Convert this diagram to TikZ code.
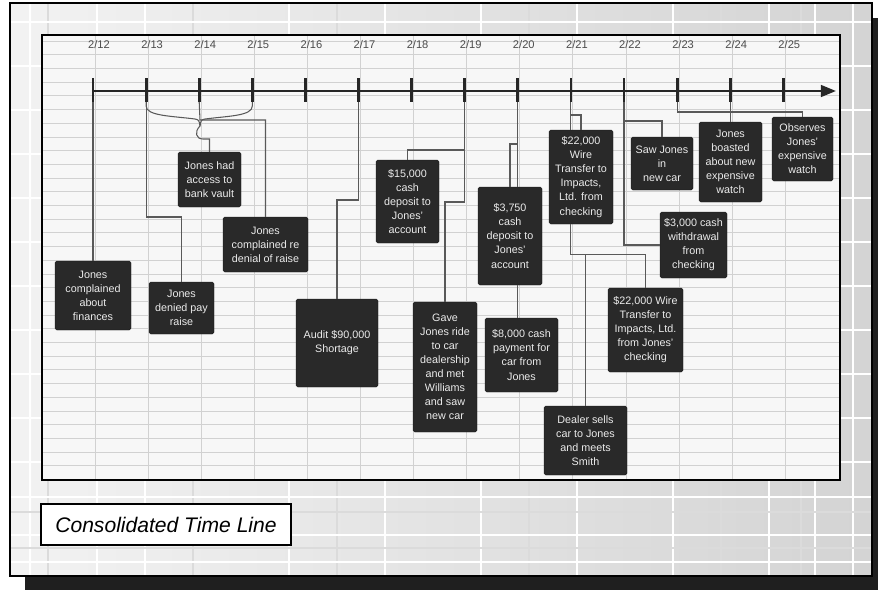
\documentclass[tikz,border=0pt]{standalone}
\usepackage{fontspec}
\setsansfont{Liberation Sans}
\usetikzlibrary{arrows.meta}

\begin{document}
\begin{tikzpicture}[x=0.3mm, y=-0.3mm,
event/.style={
% The shape:
rectangle, rounded corners=1.5pt,
% The border:
thin,
draw=black!90,
% The filling:
fill=black!84,
% Font
text=white!92!black,
font=\sffamily\fontsize{9.2}{12}\selectfont,
align=center, inner sep=1pt
},
evsize/.style 2 args={minimum width=#1*0.3mm, minimum height=#2*0.3mm},
datelabel/.style={font=\sffamily\fontsize{9.5}{11}\selectfont, text=black!70},
link/.style={draw=black!65, line width=0.9pt},
caption/.style={
% The shape:
rectangle, minimum width=250*0.3mm, minimum height=41*0.3mm,
% The border:
line width=2pt, draw=black,
% The filling:
fill=white,
% Font
font=\sffamily\itshape\fontsize{18}{20}\selectfont}
]

\useasboundingbox (0,0) rectangle (878,590);
% shadow and sheet
\fill[black!88] (25,576) rectangle (878,590);
\fill[black!88] (872,18) rectangle (878,590);
\shade[left color=black!5, right color=black!17] (10,3) rectangle (872,576);
\foreach \gx in {30,97,145,289,385,481,577,673,769,815,853}
  \draw[white, line width=1.2pt] (\gx,3) -- (\gx,576);
\foreach \gx in {48,193,337,529,721,801}
  \draw[black!14, line width=1pt] (\gx,3) -- (\gx,576);
\foreach \gy in {22,66,110,154,198,242,286,330,374,418,462,497,535,562}
  \draw[white, line width=1.2pt] (10,\gy) -- (872,\gy);
\foreach \gy in {512,548}
  \draw[black!14, line width=1pt] (10,\gy) -- (872,\gy);
\draw[line width=1.7pt] (10,3) rectangle (872,576);

% chart area
\fill[black!3] (42,35) rectangle (840,480);
\foreach \gy in {41,54.7,...,476}
  \draw[black!18, line width=0.6pt] (42,\gy) -- (840,\gy);
\foreach \i in {0,...,13}
  \draw[black!18, line width=0.8pt] (95+53.1*\i,35) -- (95+53.1*\i,480);
\draw[line width=2.5pt] (42,35) rectangle (840,480);

% dates and ticks
\foreach \d [count=\i from 0] in {12,...,25} {
  \coordinate (t\d) at (93+53.1*\i,91);
  \node (d\d) [datelabel] at (99+53.1*\i,45) {2/\d};
  \draw[line width=2.4pt, black!85] (t\d) ++(0,-13) -- ++(0,24);
}
\coordinate (tlend) at (836,91);
\draw[line width=2.2pt, black!85, -{Triangle[length=13pt,width=10pt]}] (t12) -- (tlend);

\node (finances) [event, evsize={76}{69}] at (93,295.5) {Jones\\complained\\about\\finances};
\node (payraise) [event, evsize={65}{52}] at (181.5,308) {Jones\\denied pay\\raise};
\node (vault) [event, evsize={63}{55}] at (209.5,179.5) {Jones had\\access to\\bank vault};
\node (denial) [event, evsize={85}{55}] at (265.5,244.5) {Jones\\complained re\\denial of raise};
\node (audit) [event, evsize={82}{88}] at (337,343) {Audit \$90,000\\Shortage};
\node (dep15) [event, evsize={63}{83}] at (407.5,201.5) {\$15,000\\cash\\deposit to\\Jones'\\account};
\node (ride) [event, evsize={64}{130}] at (445,367) {Gave\\Jones ride\\to car\\dealership\\and met\\Williams\\and saw\\new car};
\node (dep3750) [event, evsize={64}{98}] at (510,236) {\$3,750\\cash\\deposit to\\Jones'\\account};
\node (payment) [event, evsize={73}{74}] at (521.5,355) {\$8,000 cash\\payment for\\car from\\Jones};
\node (wire1) [event, evsize={64}{94}] at (581,177) {\$22,000\\Wire\\Transfer to\\Impacts,\\Ltd. from\\checking};
\node (dealer) [event, evsize={83}{69}] at (585.5,440.5) {Dealer sells\\car to Jones\\and meets\\Smith};
\node (wire2) [event, evsize={75}{84}] at (645.5,330) {\$22,000 Wire\\Transfer to\\Impacts, Ltd.\\from Jones'\\checking};
\node (saw) [event, evsize={62}{53}] at (662,163.5) {Saw Jones\\in\\new car};
\node (withdraw) [event, evsize={67}{66}] at (693.5,245) {\$3,000 cash\\withdrawal\\from\\checking};
\node (boasted) [event, evsize={63}{80}] at (730.5,162) {Jones\\boasted\\about new\\expensive\\watch};
\node (observes) [event, evsize={61}{64}] at (802.5,149) {Observes\\Jones'\\expensive\\watch};

\node (title) [caption] at (166,524.5) {Consolidated Time Line};

% connectors
\draw[link] (t12) ++(0,11) -- (finances.north);
\coordinate (bracetip) at (200,126);
\coordinate (knot) at (200,120);
\draw[link] (t13) ++(0,11) -- ++(0,4) .. controls +(0,10) and (172,116) .. (195,119) .. controls (199,120) .. (bracetip);
\draw[link] (t15) ++(0,11) -- ++(0,4) .. controls +(0,10) and (228,116) .. (205,119) .. controls (201,120) .. (bracetip);
\draw[link] (t14) ++(0,11) -- (knot) -| (denial.north);
\draw[link] (bracetip) .. controls (194,132) and (196,139) .. (203,139) -| (vault.north);
\draw[link] (t13) ++(0,11) -- ++(0,115) -| (payraise.north);
\draw[link] (t17) ++(0,11) -- ++(0,98) -| (audit.north);
\draw[link] (t19) ++(0,11) -- ++(0,100) -| (ride.north);
\draw[link] (t19) ++(0,11) -- ++(0,48) -| (dep15.north);
\draw[link] (t20) ++(0,11) -- (t20 |- dep3750.north);
\draw[link] (t20 |- dep3750.south) -- (t20 |- payment.north);
\draw[link] (t20) ++(0,11) -- ++(0,42) -| (dep3750.north);
\draw[link] (t21) ++(0,11) -- ++(0,13) -| (wire1.north);
\draw[link] (t21) ++(0,11) -- (t21 |- wire1.north);
\draw[link] (t21 |- wire1.south) -- ++(0,30) coordinate (bend21) -| (wire2.north);
\draw[link] (bend21 -| dealer.north) -- (dealer.north);
\draw[link] (t22) ++(0,11) -- ++(0,19) -| (saw.north);
\draw[link] (t22) ++(0,11) |- (withdraw.west);
\draw[link] (t23) ++(0,11) -- ++(0,10) -| (observes.north);
\draw[link] (t24) ++(0,11) -- (t24 |- boasted.north);
\end{tikzpicture}
\end{document}
